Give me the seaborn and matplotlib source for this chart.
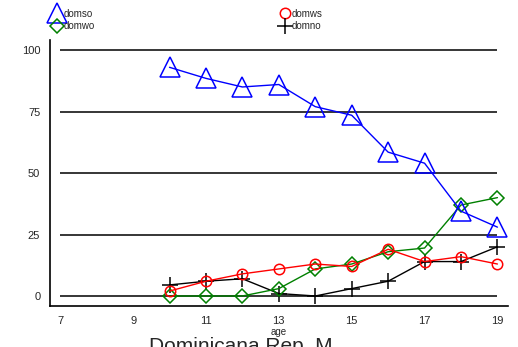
import numpy as np
import pandas as pd
import matplotlib
matplotlib.use("Agg")
import matplotlib.pyplot as plt
from matplotlib.lines import Line2D
import seaborn as sns

ages = [10, 11, 12, 13, 14, 15, 16, 17, 18, 19]
domso = [93, 88.5, 85, 86, 77, 73.5, 58.5, 54, 34.5, 28]
domws = [2, 6, 9, 11, 13, 12, 19, 14, 16, 13]
domwo = [0, 0, 0, 3, 11, 13, 18, 19.5, 37, 40]
domno = [4.5, 6, 7, 1, 0, 3, 6, 14, 14, 20]

series = ["domso", "domwo", "domws", "domno"]
values = {"domso": domso, "domwo": domwo, "domws": domws, "domno": domno}
colors = {"domso": "#0000ff", "domwo": "#008000", "domws": "#ff0000", "domno": "#000000"}
markers = {"domso": "^", "domwo": "D", "domws": "o", "domno": "+"}
msizes = {"domso": 14, "domwo": 7, "domws": 7.5, "domno": 11}

xticks = [7, 9, 11, 13, 15, 17, 19]
yticks = [0, 25, 50, 75, 100]

sns.set_style("white")
plt.rcParams["font.family"] = ["Liberation Sans", "DejaVu Sans"]

fig = plt.figure(figsize=(5.18, 3.47), dpi=100)
ax = fig.add_axes([50 / 518, 1 - 306 / 347, 458 / 518, 266 / 347])

ax.hlines(yticks, xticks[0], xticks[-1], color="black", lw=1.1, zorder=1)

draw_order = ["domno", "domwo", "domws", "domso"]
for s in draw_order:
    sns.lineplot(x=ages, y=values[s], ax=ax, color=colors[s], lw=1,
                 marker=markers[s], markersize=msizes[s],
                 markeredgecolor=colors[s], mfc="none", markeredgewidth=1.1,
                 zorder=3)

ax.set_xlim(6.72, 19.29)
ax.set_ylim(-4.07, 104.1)
ax.set_xticks(xticks)
ax.set_yticks(yticks)
ax.set_xticklabels([str(v) for v in xticks], fontsize=8)
ax.set_yticklabels([str(v) for v in yticks], fontsize=8)
ax.tick_params(axis="both", direction="out", length=5, width=1, color="black", pad=2)
for side in ["top", "right"]:
    ax.spines[side].set_visible(False)
for side in ["left", "bottom"]:
    ax.spines[side].set_color("black")
    ax.spines[side].set_linewidth(1.2)
ax.set_xlabel("age", fontsize=7, labelpad=1)
ax.set_ylabel("")

handles = [Line2D([], [], linestyle="none", marker=markers[s], markersize=msizes[s],
                  markeredgecolor=colors[s], mfc="none", markeredgewidth=1.1)
           for s in series]
fig.legend(handles, series, ncol=2, loc="upper left", bbox_to_anchor=(45 / 518, 1 - 3 / 347),
           frameon=False, fontsize=7, handlelength=1.2, handletextpad=0.1,
           labelspacing=0.25, columnspacing=19, borderpad=0.1)

fig.text(241 / 518, 1 - 337 / 347, "Dominicana Rep. M", ha="center", va="top", fontsize=15)

fig.savefig("out.png", dpi=100)
